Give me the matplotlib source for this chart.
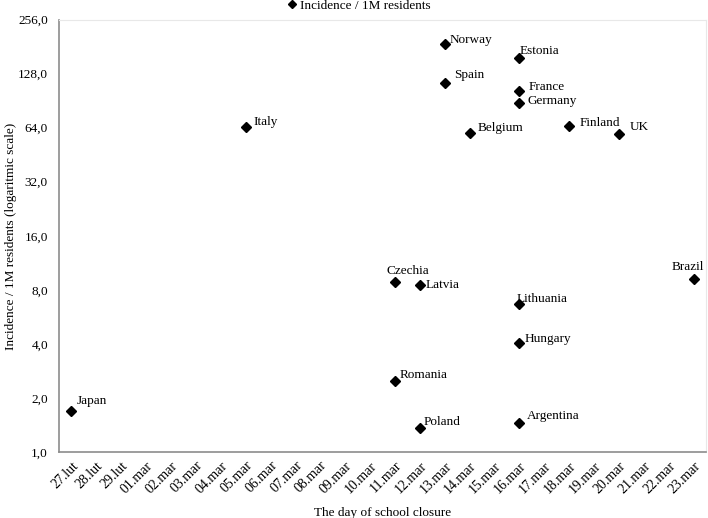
import matplotlib
matplotlib.use("Agg")
import matplotlib.pyplot as plt
from matplotlib.ticker import FixedLocator, FuncFormatter

plt.rcParams['font.family'] = ['Liberation Serif', 'DejaVu Serif']

# category axis: day of school closure
days = ['27.lut', '28.lut', '29.lut'] + [f'{d:02d}.mar' for d in range(1, 24)]

countries = ['Japan', 'Italy', 'Norway', 'Spain', 'Estonia', 'France', 'Germany',
             'Belgium', 'Finland', 'UK', 'Czechia', 'Latvia', 'Lithuania',
             'Hungary', 'Romania', 'Poland', 'Argentina', 'Brazil']
closure = ['27.lut', '05.mar', '13.mar', '13.mar', '16.mar', '16.mar', '16.mar',
           '14.mar', '18.mar', '20.mar', '11.mar', '12.mar', '16.mar',
           '16.mar', '11.mar', '12.mar', '16.mar', '23.mar']
incidence = [1.69, 64.3, 186.0, 113.0, 156.0, 103.0, 88.0,
             60.0, 65.4, 59.0, 8.8, 8.5, 6.65,
             4.07, 2.47, 1.36, 1.45, 9.2]

y_ticks = [1, 2, 4, 8, 16, 32, 64, 128, 256]

# label placement (pixel offsets from marker, text alignment)
label_pos = {
    'Japan': (5, 10, 'left'), 'Italy': (8, 5, 'left'), 'Norway': (5, 4, 'left'),
    'Spain': (9, 8, 'left'), 'Estonia': (0, 7, 'left'), 'France': (9, 4, 'left'),
    'Germany': (8, 2, 'left'), 'Belgium': (8, 5, 'left'), 'Finland': (10, 3, 'left'),
    'UK': (11, 7, 'left'), 'Czechia': (-8, 11, 'left'), 'Latvia': (6, 0, 'left'),
    'Lithuania': (-3, 5, 'left'), 'Hungary': (5, 4, 'left'), 'Romania': (5, 6, 'left'),
    'Poland': (4, 6, 'left'), 'Argentina': (8, 7, 'left'), 'Brazil': (10, 12, 'right'),
}

W, H = 708, 518
fig = plt.figure(figsize=(W / 100, H / 100), dpi=100, facecolor='white')
ax = fig.add_axes([59 / W, 1 - 452 / H, 647 / W, 432.5 / H])

xs = [days.index(d) for d in closure]
ax.plot(xs, incidence, linestyle='none', marker='D', markersize=4.6,
        color='black', label='Incidence / 1M residents')

for name, x, y in zip(countries, xs, incidence):
    dx, dy, ha = label_pos[name]
    ax.annotate(name, (x, y), xytext=(dx, dy), textcoords='offset pixels',
                ha=ha, va='center', fontsize=9.5, color='black')

ax.set_yscale('log', base=2)
ax.set_ylim(1, 256)
ax.yaxis.set_major_locator(FixedLocator(y_ticks))
ax.yaxis.set_minor_locator(FixedLocator([]))
ax.yaxis.set_major_formatter(FuncFormatter(lambda v, _: f'{v:.1f}'.replace('.', ',')))

ax.set_xlim(-0.5, len(days) - 0.5)
ax.set_xticks(range(len(days)))
ax.set_xticklabels(days, rotation=45, ha='right', rotation_mode='anchor')

ax.tick_params(axis='y', length=0, labelsize=9.5, colors='black', pad=8)
ax.tick_params(axis='x', length=0, labelsize=10, colors='black', pad=5)

for side in ['left', 'bottom']:
    ax.spines[side].set_color('#8c8c8c')
    ax.spines[side].set_linewidth(1.2)
for side in ['top', 'right']:
    ax.spines[side].set_color('#e8e8e8')
    ax.spines[side].set_linewidth(0.8)

ax.set_xlabel('The day of school closure', fontsize=9.5, labelpad=8)
fig.text(11 / W, 1 - 236 / H, 'Incidence / 1M residents (logaritmic scale)',
         rotation=90, ha='center', va='center', fontsize=9.5)

fig.legend(loc='center left', bbox_to_anchor=(288 / W, 1 - 6 / H),
           frameon=False, fontsize=9.5, handlelength=0.6, handletextpad=0.3,
           borderpad=0, borderaxespad=0, markerscale=0.9)

fig.savefig('out.png', dpi=100, facecolor='white')
